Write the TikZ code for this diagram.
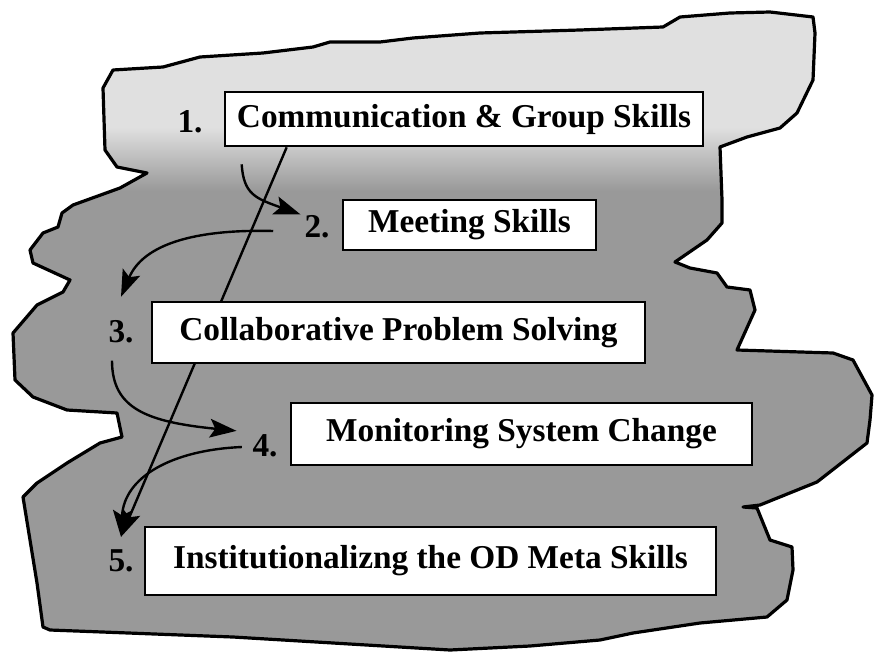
\documentclass[tikz,border=0pt]{standalone}
\usepackage{fontspec}
\setmainfont{Liberation Serif}
\usetikzlibrary{arrows.meta,backgrounds}

\pgfdeclareverticalshading{blobshade}{100bp}{color(0bp)=(black!40); color(61bp)=(black!40); color(66bp)=(black!12); color(100bp)=(black!12)}

\tikzset{
    skillbox/.style={draw,line width=2pt,fill=white,inner sep=0.75pt,font=\fontsize{25}{30}\selectfont\bfseries},
    stepnum/.style={inner sep=0.75pt,font=\fontsize{25}{30}\selectfont\bfseries},
    flow/.style={line width=1.8pt,-{Stealth[length=20pt,width=14pt,inset=4pt]}},
    blob/.style={draw,line width=2.4pt,line join=round,shading=blobshade},
}

\begin{document}
\begin{tikzpicture}[x=0.75pt,y=0.75pt,yscale=-1,xscale=1]
        \useasboundingbox (0,0) rectangle (877,653);
        % the rough cloud behind everything
        \begin{scope}[on background layer]
        \draw [blob] (113,70) -- (163,67) -- (200,57) -- (263,53) -- (313,47) -- (330,42) -- (380,42) -- (413,38) -- (480,33) -- (580,30) -- (663,27) -- (680,17) -- (730,13) -- (770,12) -- (813,17) -- (815,33) -- (813,80) -- (797,113) -- (780,128) -- (747,137) -- (720,147) -- (722,200) -- (722,223) -- (707,240) -- (675,262) -- (690,268) -- (717,273) -- (727,287) -- (750,290) -- (755,310) -- (737,350) -- (833,353) -- (853,360) -- (872,395) -- (870,420) -- (867,443) -- (817,482) -- (760,505) -- (743,507) -- (757,508) -- (770,540) -- (792,547) -- (793,570) -- (787,600) -- (767,617) -- (700,623) -- (633,633) -- (600,640) -- (530,646) -- (450,650) -- (233,637) -- (50,630) -- (43,627) -- (37,583) -- (23,497) -- (37,483) -- (67,463) -- (100,443) -- (122,437) -- (117,413) -- (67,410) -- (33,397) -- (15,380) -- (13,333) -- (37,305) -- (63,292) -- (70,280) -- (33,263) -- (30,250) -- (43,233) -- (58,227) -- (62,213) -- (73,205) -- (120,188) -- (147,173) -- (117,167) -- (105,150) -- (103,88) -- cycle;
        \end{scope}

        \node [skillbox, minimum width=358.5pt, minimum height=40.5pt] (b1) at (464,119) {Communication \& Group Skills};
        \node [skillbox, minimum width=189.75pt, minimum height=37.5pt] (b2) at (469.5,225) {Meeting Skills};
        \node [skillbox, minimum width=369.75pt, minimum height=45.75pt] (b3) at (398.5,332.5) {Collaborative Problem Solving};
        \node [skillbox, minimum width=345.75pt, minimum height=46.5pt] (b4) at (521.5,434) {Monitoring System Change};
        \node [skillbox, minimum width=428.25pt, minimum height=51pt] (b5) at (430.5,561) {Institutionalizng the OD Meta Skills};

        \node [stepnum] (n1) at (190,122) {1.};
        \node [stepnum] (n2) at (317,227) {2.};
        \node [stepnum] (n3) at (121,332) {3.};
        \node [stepnum] (n4) at (265,446) {4.};
        \node [stepnum] (n5) at (121,561) {5.};

        % connectors, kept under the boxes (yscale=-1, so yshift>0 is down)
        \begin{scope}[on background layer]
        \draw [flow] ([xshift=47.25pt]b1.south west) -- ([yshift=-8.8pt]n5.north);
        \draw [flow] ([xshift=13.5pt,yshift=12.75pt]b1.south west) .. controls +(2,30) and +(-45,-16) .. ([xshift=-2pt]n2.north west);
        \draw [flow] ([xshift=-22.5pt,yshift=3pt]n2.west) .. controls +(-80,-2) and +(22,-52) .. ([yshift=-17pt]n3.north);
        \draw [flow] ([xshift=-6.75pt,yshift=12pt]n3.south) .. controls +(0,48) and +(-90,-9) .. ([xshift=-11pt,yshift=-2pt]n4.north west);
        \draw [flow] ([xshift=-7pt,yshift=0.75pt]n4.west) .. controls +(-70,3) and +(3,-60) .. ([yshift=-8.8pt]n5.north);
        \end{scope}
\end{tikzpicture}
\end{document}
